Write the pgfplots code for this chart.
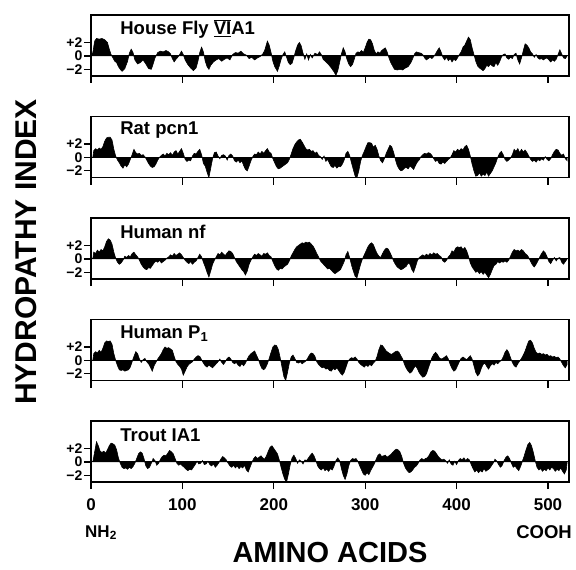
\documentclass[border=0pt]{standalone}
\usepackage{fontspec}
\setmainfont{Liberation Sans}
\usepackage{pgfplots}
\pgfplotsset{compat=1.18}

\pgfplotsset{
  panel/.style={
    scale only axis, width=478pt, height=61pt,
    xmin=0, xmax=523, ymin=-3, ymax=6.1,
    axis line style={line width=1.3pt},
    xtick={0,100,200,300,400,500}, xticklabels={},
    ytick={-2,0,2}, yticklabels={\textbf{−2},\textbf{0},\textbf{+2}},
    tick align=outside, xtick pos=bottom, ytick pos=left,
    major tick length=7pt,
    every tick/.style={line width=1.3pt, black},
    yticklabel style={font=\fontsize{14}{14}\selectfont\bfseries, inner sep=1.5pt},
    anchor=north west,
  },
  prof/.style={fill=black, draw=black, line width=0.6pt},
  zline/.style={black, line width=1.2pt},
}
\newcommand{\ptitle}[1]{\node[anchor=west, font=\fontsize{18.5}{18.5}\selectfont\bfseries] at (rel axis cs:0.054,0.77) {#1};}

\begin{document}
\begin{tikzpicture}
\path[use as bounding box] (-91pt,15pt) rectangle (485pt,-555pt);

% House Fly VIA1
\begin{axis}[panel, at={(0pt,0pt)}]
\addplot[prof] coordinates {
(0,0)(2,0.5)(4,2.2)(6,2.6)(9,2.5)(12,2.6)(15,2.4)(18,2.0)(20,1.0)(22,0.2)(24,-0.3)(26,-0.8)(28,-1.0)(30,-1.6)(32,-2.0)(34,-2.3)(37,-1.9)(40,-0.8)(42,0.4)(44,1.0)(46,0.5)(48,-0.6)(51,-1.2)(54,-1.0)(57,-0.6)(60,-1.2)(63,-1.9)(66,-2.0)(68,-1.2)(70,-0.3)(73,0.5)(76,0.7)(79,0.6)(82,0.8)(85,0.6)(87,0.3)(89,-0.4)(91,-0.9)(93,-0.5)(95,-0.2)(97,0.2)(99,0.7)(101,0.2)(103,-0.6)(106,-1.3)(109,-1.8)(112,-2.2)(115,-1.8)(117,-0.8)(119,0.5)(121,1.3)(123,0.6)(125,-0.8)(127,-1.6)(129,-2.0)(131,-1.4)(134,-0.9)(137,-0.6)(140,-0.4)(143,-0.8)(146,-0.5)(149,-0.3)(152,-0.6)(155,0.2)(158,0.5)(161,0.4)(164,0.7)(167,0.3)(170,0.1)(173,-0.4)(176,-0.2)(179,-0.6)(182,-0.3)(185,-0.1)(188,0.3)(190,0.8)(193,2.2)(195,1.6)(197,0.5)(199,-0.8)(201,-1.6)(204,-2.3)(206,-1.5)(208,-0.5)(210,0.2)(212,0.6)(214,-0.2)(216,-1.0)(218,-1.3)(220,-1.1)(222,-0.2)(224,0.8)(226,1.6)(228,2.0)(230,1.5)(232,0.4)(234,-0.5)(236,0.3)(238,-0.6)(240,0.2)(242,-0.3)(245,0.4)(248,0.2)(250,0.6)(252,0.2)(254,-0.5)(257,-0.9)(260,-1.3)(263,-1.8)(266,-2.4)(268,-2.9)(270,-2.2)(272,-1.0)(274,0.3)(276,1.2)(278,0.6)(280,-0.5)(282,-1.2)(284,-1.6)(286,-1.3)(288,-0.5)(290,0.4)(292,0.6)(294,0.5)(296,0.8)(298,0.5)(300,1.2)(302,2.0)(304,2.5)(306,2.4)(308,1.8)(310,0.8)(312,0.3)(314,0.6)(316,0.4)(318,0.8)(320,1.0)(322,1.2)(324,0.6)(326,-0.3)(328,-1.0)(330,-1.5)(332,-2.0)(335,-2.1)(338,-2.0)(341,-2.1)(344,-1.8)(347,-1.6)(350,-1.0)(352,-0.4)(354,0.3)(356,0.6)(358,0.5)(361,0.4)(363,0.2)(365,-0.3)(367,-0.6)(369,-0.4)(371,-0.2)(373,-0.4)(375,-0.1)(377,0.3)(379,0.8)(381,1.2)(383,0.6)(385,-0.2)(387,-0.6)(389,-0.2)(391,-0.7)(393,-0.4)(395,-0.9)(397,-0.5)(399,-0.7)(401,-0.3)(403,0.2)(405,0.6)(407,1.3)(409,1.6)(411,2.2)(413,2.8)(415,2.4)(417,1.2)(419,0.2)(421,-0.8)(423,-1.5)(425,-1.8)(427,-2.0)(429,-2.2)(431,-1.9)(433,-1.4)(435,-1.6)(437,-1.2)(439,-1.5)(441,-1.6)(443,-1.0)(445,-1.4)(447,-0.9)(449,-0.2)(451,0.2)(453,0.3)(455,-0.3)(457,-0.5)(459,-0.2)(461,-0.4)(463,0.2)(465,0.4)(467,-0.6)(469,-1.2)(471,-0.3)(473,0.8)(475,1.8)(477,1.6)(479,1.2)(481,0.6)(483,0.3)(485,-0.2)(487,0.2)(489,-0.3)(491,-0.5)(493,-0.4)(495,-0.6)(497,-0.4)(499,-0.3)(501,-0.6)(503,-0.9)(505,-0.6)(507,-0.8)(509,-0.5)(511,0.2)(513,0.9)(515,0.3)(517,-0.3)(519,-0.4)(521,0.0)
} \closedcycle;
\addplot[zline] coordinates {(0,0)(523,0)};
\ptitle{House Fly \ensuremath{\overline{\underline{\hbox{VI}}}}A1}
\end{axis}

% Rat pcn1
\begin{axis}[panel, at={(0pt,-101.5pt)}]
\addplot[prof] coordinates {
(2,0)(3,1.0)(5,1.3)(7,1.1)(9,1.4)(11,1.2)(13,1.6)(15,2.4)(17,2.9)(19,3.0)(21,3.0)(23,2.6)(25,1.2)(27,0.2)(29,-0.4)(31,-0.8)(33,-1.3)(35,-1.6)(37,-1.1)(39,-1.4)(41,-1.0)(43,-0.3)(45,0.4)(47,1.2)(49,0.7)(51,0.5)(53,0.6)(55,0.3)(57,0.4)(59,0.1)(61,-0.4)(63,-0.9)(65,-1.3)(67,-1.5)(69,-1.4)(71,-1.0)(73,-0.4)(75,0.0)(77,0.3)(79,0.5)(81,0.2)(83,0.6)(85,0.4)(87,0.7)(89,0.3)(91,0.8)(93,1.0)(95,0.5)(97,0.9)(99,1.3)(101,0.6)(103,-0.3)(105,-0.6)(107,-0.4)(109,-0.5)(111,0.2)(113,0.6)(115,0.5)(117,0.9)(119,1.2)(121,0.4)(123,-0.9)(125,-1.3)(127,-2.2)(129,-3.0)(131,-1.6)(133,-0.2)(135,0.7)(137,0.8)(139,0.2)(141,-0.2)(143,0.3)(145,0.4)(147,0.2)(149,-0.4)(151,0.3)(153,0.5)(155,0.2)(157,-0.5)(159,-0.7)(161,-0.4)(163,-0.8)(165,-0.5)(167,-1.2)(169,-1.8)(171,-2.0)(173,-1.3)(175,-0.5)(177,0.1)(179,0.5)(181,0.4)(183,0.8)(185,0.5)(187,0.9)(189,0.6)(191,1.0)(193,1.3)(195,0.8)(197,0.6)(199,-0.2)(201,-0.8)(203,-1.4)(205,-1.7)(207,-1.6)(209,-1.4)(211,-1.2)(213,-1.0)(215,-0.8)(217,-0.3)(219,0.5)(221,1.3)(223,1.9)(225,2.3)(227,2.6)(229,2.7)(231,2.3)(233,1.8)(235,1.3)(237,1.1)(239,1.2)(241,0.9)(243,1.0)(245,0.6)(247,0.8)(249,0.3)(251,0.1)(253,-0.3)(255,0.2)(257,-0.6)(259,-0.3)(261,-0.9)(263,-1.4)(265,-1.5)(267,-1.2)(269,-1.6)(271,-1.3)(273,-1.4)(275,-1.0)(277,-0.4)(279,0.6)(281,0.9)(283,0.3)(285,-0.8)(287,-1.8)(289,-2.8)(291,-3.0)(293,-2.0)(295,-0.6)(297,0.3)(299,0.9)(301,1.6)(303,2.2)(305,2.2)(307,2.1)(309,1.5)(311,1.8)(313,1.2)(315,0.2)(317,-0.5)(319,-0.8)(321,-0.2)(323,0.6)(325,1.2)(327,1.8)(329,1.6)(331,0.8)(333,-0.3)(335,-1.2)(337,-1.7)(339,-2.0)(341,-1.9)(343,-1.6)(345,-1.5)(347,-1.7)(349,-1.3)(351,-1.5)(353,-1.8)(355,-1.2)(357,-0.7)(359,-0.4)(361,0.1)(363,0.4)(365,0.6)(367,0.5)(369,0.7)(371,0.6)(373,0.3)(375,-0.2)(377,-0.6)(379,-0.4)(381,-0.9)(383,-1.0)(385,-0.7)(387,-0.9)(389,-0.6)(391,-0.3)(393,-0.1)(395,0.4)(397,1.0)(399,0.8)(401,1.2)(403,1.0)(405,1.3)(407,1.1)(409,1.6)(411,1.8)(413,1.2)(415,0.2)(417,-1.0)(419,-2.0)(421,-2.8)(423,-2.7)(425,-2.3)(427,-2.8)(429,-2.5)(431,-2.7)(433,-2.2)(435,-2.8)(437,-2.4)(439,-2.0)(441,-1.4)(443,-0.8)(445,0.0)(447,0.6)(449,0.9)(451,0.4)(453,-0.3)(455,-0.6)(457,-0.4)(459,-0.1)(461,0.4)(463,1.2)(465,0.9)(467,1.3)(469,0.7)(471,1.2)(473,0.8)(475,1.1)(477,0.7)(479,0.2)(481,-0.3)(483,-0.6)(485,-0.4)(487,-0.7)(489,-0.3)(491,-0.5)(493,-0.2)(495,-0.4)(497,0.1)(499,-0.3)(501,-0.5)(503,-0.2)(505,0.4)(507,0.9)(509,1.2)(511,1.1)(513,0.6)(515,0.3)(517,0.5)(519,-0.2)(521,-0.5)
} \closedcycle;
\addplot[zline] coordinates {(0,0)(523,0)};
\ptitle{Rat pcn1}
\end{axis}

% Human nf
\begin{axis}[panel, at={(0pt,-203pt)}]
\addplot[prof] coordinates {
(2,0)(3,1.0)(5,0.8)(7,1.3)(9,1.0)(11,1.4)(13,1.2)(15,1.8)(17,2.6)(19,3.0)(21,2.8)(23,2.2)(25,1.0)(27,0.1)(29,-0.5)(31,-0.8)(33,-0.6)(35,-0.2)(37,0.4)(39,0.2)(41,0.5)(43,0.3)(45,0.8)(47,1.0)(49,0.6)(51,0.3)(53,-0.2)(55,-0.8)(57,-1.2)(59,-1.5)(61,-1.6)(63,-1.3)(65,-1.4)(67,-1.0)(69,-0.6)(71,-0.3)(73,-0.5)(75,-0.2)(77,-0.6)(79,-0.4)(81,-0.2)(83,0.1)(85,0.3)(87,0.6)(89,0.4)(91,0.8)(93,0.5)(95,0.7)(97,0.9)(99,0.6)(101,0.2)(103,-0.2)(105,-0.5)(107,-0.7)(109,-0.4)(111,-0.8)(113,-0.5)(115,-0.3)(117,0.2)(119,0.7)(121,0.3)(123,-0.5)(125,-1.2)(127,-2.0)(129,-2.7)(131,-1.8)(133,-0.8)(135,-0.2)(137,0.3)(139,0.8)(141,0.6)(143,1.0)(145,0.7)(147,0.5)(149,0.9)(151,1.2)(153,1.1)(155,0.8)(157,0.2)(159,-0.4)(161,-0.8)(163,-1.2)(165,-1.6)(167,-1.9)(169,-2.4)(171,-1.8)(173,-0.8)(175,-0.2)(177,0.3)(179,0.7)(181,0.5)(183,0.8)(185,0.6)(187,0.4)(189,0.8)(191,0.7)(193,0.9)(195,0.5)(197,0.3)(199,-0.4)(201,-1.0)(203,-1.5)(205,-1.7)(207,-1.4)(209,-1.5)(211,-1.2)(213,-1.0)(215,-0.8)(217,-0.3)(219,0.4)(221,0.9)(223,1.4)(225,1.8)(227,2.0)(229,2.2)(231,2.4)(233,2.3)(235,2.5)(237,2.4)(239,2.5)(241,2.2)(243,1.9)(245,1.4)(247,0.8)(249,0.3)(251,-0.3)(253,-0.6)(255,-0.9)(257,-1.2)(259,-1.5)(261,-1.4)(263,-1.7)(265,-2.0)(267,-2.2)(269,-2.0)(271,-1.8)(273,-1.6)(275,-1.0)(277,-0.4)(279,0.6)(281,1.1)(283,0.2)(285,-0.9)(287,-1.8)(289,-2.6)(291,-2.8)(293,-1.8)(295,-0.8)(297,0.0)(299,0.6)(301,1.2)(303,1.8)(305,2.2)(307,2.4)(309,2.1)(311,1.4)(313,0.8)(315,0.4)(317,0.2)(319,0.8)(321,1.3)(323,1.6)(325,1.5)(327,1.0)(329,0.4)(331,-0.3)(333,-0.8)(335,-1.2)(337,-1.4)(339,-1.6)(341,-1.5)(343,-1.3)(345,-1.1)(347,-0.6)(349,-0.8)(351,-1.6)(353,-2.0)(355,-1.2)(357,-0.3)(359,0.2)(361,0.4)(363,0.6)(365,0.4)(367,0.7)(369,0.5)(371,0.8)(373,0.6)(375,0.9)(377,0.7)(379,0.8)(381,0.5)(383,0.3)(385,-0.3)(387,-0.5)(389,-0.2)(391,0.3)(393,0.6)(395,1.2)(397,1.0)(399,1.6)(401,1.8)(403,1.7)(405,1.8)(407,1.4)(409,1.7)(411,1.2)(413,0.4)(415,-0.6)(417,-1.2)(419,-1.6)(421,-2.0)(423,-1.8)(425,-2.2)(427,-1.9)(429,-2.3)(431,-2.0)(433,-2.4)(435,-2.8)(437,-2.3)(439,-1.6)(441,-1.0)(443,-0.8)(445,-0.4)(447,-0.6)(449,-0.4)(451,-0.5)(453,-0.3)(455,-0.5)(457,-0.2)(459,0.4)(461,1.0)(463,1.4)(465,1.2)(467,1.3)(469,1.1)(471,1.4)(473,1.2)(475,0.8)(477,0.6)(479,0.2)(481,-0.4)(483,-0.9)(485,-1.2)(487,-0.8)(489,-0.3)(491,0.3)(493,0.8)(495,1.2)(497,0.9)(499,0.3)(501,-0.4)(503,-0.7)(505,-0.2)(507,0.2)(509,-0.3)(511,0.1)(513,0.2)(515,-0.5)(517,-0.8)(519,-0.4)(521,0.0)
} \closedcycle;
\addplot[zline] coordinates {(0,0)(523,0)};
\ptitle{Human nf}
\end{axis}

% Human P1
\begin{axis}[panel, at={(0pt,-304.5pt)}]
\addplot[prof] coordinates {
(2,0)(3,1.0)(5,1.3)(7,1.1)(9,1.5)(11,1.2)(13,1.8)(15,2.6)(17,2.9)(19,2.8)(21,2.9)(23,2.4)(25,1.0)(27,0.0)(29,-0.8)(31,-1.4)(33,-1.5)(35,-1.4)(37,-1.6)(39,-1.5)(41,-1.4)(43,-1.0)(45,-0.2)(47,0.6)(49,1.3)(51,1.0)(53,0.2)(55,-0.3)(57,0.1)(59,0.3)(61,-0.2)(63,-0.5)(65,-1.0)(67,-1.6)(69,-0.8)(71,-0.3)(73,0.2)(75,0.6)(77,1.0)(79,1.6)(81,2.0)(83,1.8)(85,1.9)(87,1.7)(89,1.5)(91,0.6)(93,-0.2)(95,-0.6)(97,-0.9)(99,-1.3)(101,-2.2)(103,-1.6)(105,-1.0)(107,-0.6)(109,-0.4)(111,-0.2)(113,0.2)(115,0.5)(117,0.7)(119,0.6)(121,0.1)(123,-0.4)(125,-0.8)(127,-1.0)(129,-0.7)(131,-0.9)(133,-1.1)(135,-0.8)(137,-0.5)(139,-0.2)(141,0.2)(143,-0.3)(145,-0.6)(147,-0.2)(149,0.3)(151,0.5)(153,0.2)(155,-0.3)(157,-0.5)(159,-0.3)(161,-0.7)(163,-0.9)(165,-0.5)(167,-0.8)(169,-0.4)(171,0.2)(173,0.7)(175,1.0)(177,1.2)(179,1.4)(181,0.8)(183,0.2)(185,-0.6)(187,-1.2)(189,-1.4)(191,-1.1)(193,-0.5)(195,0.3)(197,1.2)(199,2.0)(201,2.3)(203,2.2)(205,1.6)(207,0.4)(209,-1.0)(211,-2.4)(213,-3.0)(215,-1.8)(217,-0.4)(219,0.5)(221,0.8)(223,0.3)(225,-0.3)(227,-0.4)(229,-0.2)(231,-0.5)(233,-0.3)(235,-0.1)(237,0.3)(239,0.8)(241,1.1)(243,1.0)(245,0.6)(247,-0.2)(249,-0.6)(251,-0.9)(253,-1.1)(255,-1.0)(257,-1.3)(259,-1.2)(261,-1.5)(263,-1.6)(265,-1.2)(267,-1.4)(269,-1.1)(271,-1.5)(273,-1.9)(275,-2.2)(277,-1.8)(279,-1.0)(281,-0.2)(283,0.2)(285,0.4)(287,0.3)(289,0.5)(291,0.2)(293,-0.3)(295,-0.6)(297,-0.8)(299,-1.0)(301,-0.7)(303,-0.9)(305,-0.6)(307,-0.8)(309,-0.4)(311,-0.1)(313,0.6)(315,1.6)(317,2.3)(319,2.2)(321,1.8)(323,1.4)(325,1.2)(327,1.0)(329,0.9)(331,1.1)(333,1.3)(335,1.4)(337,1.2)(339,0.7)(341,0.2)(343,-0.6)(345,-1.2)(347,-1.6)(349,-1.9)(351,-1.7)(353,-1.2)(355,-0.8)(357,-1.2)(359,-1.8)(361,-2.2)(363,-2.5)(365,-2.4)(367,-2.0)(369,-1.2)(371,-0.4)(373,0.4)(375,0.9)(377,1.2)(379,0.9)(381,0.4)(383,0.2)(385,0.3)(387,0.5)(389,0.7)(391,0.2)(393,-0.6)(395,-1.2)(397,-1.6)(399,-1.4)(401,-0.8)(403,-0.2)(405,0.3)(407,0.5)(409,0.3)(411,0.1)(413,0.4)(415,0.7)(417,0.2)(419,-0.8)(421,-1.8)(423,-2.3)(425,-2.0)(427,-1.2)(429,-0.6)(431,-0.4)(433,-0.9)(435,-1.3)(437,-0.8)(439,-0.5)(441,-0.7)(443,-0.3)(445,-0.5)(447,-0.2)(449,0.0)(451,0.5)(453,1.2)(455,1.6)(457,1.2)(459,0.4)(461,-0.3)(463,-0.8)(465,-1.0)(467,-0.5)(469,-0.1)(471,0.3)(473,0.8)(475,1.4)(477,2.2)(479,2.9)(481,3.0)(483,2.6)(485,1.8)(487,1.2)(489,1.0)(491,1.1)(493,0.9)(495,1.0)(497,0.8)(499,0.9)(501,0.6)(503,0.7)(505,0.5)(507,0.6)(509,0.4)(511,0.5)(513,0.2)(515,-0.3)(517,-0.8)(519,-1.1)(521,-0.6)
} \closedcycle;
\addplot[zline] coordinates {(0,0)(523,0)};
\ptitle{Human P\textsubscript{1}}
\end{axis}

% Trout IA1
\begin{axis}[panel, at={(0pt,-406pt)},
  xticklabels={0,100,200,300,400,500},
  xticklabel style={font=\fontsize{17}{17}\selectfont\bfseries, yshift=-6pt}]
\addplot[prof] coordinates {
(2,0)(4,1.5)(6,3.0)(8,2.4)(10,1.6)(12,1.4)(14,1.6)(16,1.3)(18,1.8)(20,2.4)(22,2.8)(24,2.7)(26,2.5)(28,1.8)(30,0.6)(32,-0.2)(34,-0.8)(36,-1.0)(38,-0.9)(40,-1.1)(42,-0.8)(44,-1.0)(46,-0.7)(48,-0.2)(50,0.5)(52,1.2)(54,1.5)(56,1.3)(58,0.5)(60,-0.6)(62,-1.0)(64,-0.8)(66,-0.2)(68,0.5)(70,0.2)(72,-0.5)(74,-0.2)(76,0.4)(78,0.8)(80,1.0)(82,0.9)(84,1.3)(86,1.7)(88,1.5)(90,1.2)(92,0.5)(94,-0.2)(96,-0.5)(98,-0.3)(100,-0.6)(102,-0.8)(104,-1.1)(106,-1.3)(108,-1.1)(110,-1.2)(112,-0.8)(114,-0.4)(116,0.1)(118,-0.3)(120,-0.2)(122,0.2)(124,-0.4)(126,-0.3)(128,0.1)(130,-0.4)(132,-0.6)(134,-0.3)(136,-0.8)(138,-0.5)(140,-0.1)(142,0.4)(144,0.8)(146,0.6)(148,0.3)(150,-0.2)(152,-0.6)(154,-0.8)(156,-0.5)(158,-0.9)(160,-0.6)(162,-1.0)(164,-0.7)(166,-0.9)(168,-0.5)(170,-1.2)(172,-1.5)(174,-0.8)(176,-0.1)(178,0.5)(180,0.8)(182,0.5)(184,0.7)(186,0.9)(188,0.6)(190,0.4)(192,0.9)(194,1.6)(196,2.2)(198,2.4)(200,2.0)(202,1.6)(204,1.2)(206,0.3)(208,-0.8)(210,-1.8)(212,-2.6)(214,-3.0)(216,-1.8)(218,-0.4)(220,0.6)(222,1.0)(224,0.5)(226,-0.2)(228,0.3)(230,0.1)(232,-0.3)(234,0.3)(236,0.2)(238,0.6)(240,1.0)(242,1.3)(244,0.9)(246,0.2)(248,-0.6)(250,-1.0)(252,-1.2)(254,-0.9)(256,-1.3)(258,-1.1)(260,-1.4)(262,-1.0)(264,-1.2)(266,-0.6)(268,0.2)(270,0.6)(272,0.2)(274,-1.0)(276,-2.0)(278,-2.6)(280,-1.8)(282,-0.6)(284,0.2)(286,0.5)(288,0.4)(290,0.5)(292,0.1)(294,-0.6)(296,-1.2)(298,-1.8)(300,-2.0)(302,-1.6)(304,-1.9)(306,-1.3)(308,-0.8)(310,-0.3)(312,0.4)(314,1.0)(316,1.2)(318,0.8)(320,0.9)(322,1.0)(324,0.7)(326,0.9)(328,1.1)(330,1.4)(332,1.7)(334,1.9)(336,1.8)(338,1.5)(340,0.8)(342,-0.2)(344,-0.9)(346,-1.3)(348,-1.6)(350,-1.5)(352,-1.2)(354,-0.8)(356,-0.6)(358,-0.2)(360,0.3)(362,0.5)(364,0.3)(366,0.5)(368,0.6)(370,1.0)(372,1.5)(374,1.7)(376,1.6)(378,1.2)(380,0.8)(382,0.5)(384,0.3)(386,0.4)(388,0.2)(390,-0.2)(392,0.3)(394,-0.3)(396,-0.5)(398,0.1)(400,-0.4)(402,0.2)(404,0.5)(406,0.3)(408,0.6)(410,0.2)(412,0.5)(414,0.3)(416,-0.4)(418,-1.0)(420,-1.5)(422,-1.2)(424,-1.6)(426,-1.3)(428,-1.5)(430,-1.0)(432,-1.4)(434,-1.2)(436,-1.0)(438,-0.6)(440,-0.2)(442,0.4)(444,0.1)(446,-0.4)(448,-0.8)(450,-0.5)(452,0.2)(454,0.7)(456,0.9)(458,0.5)(460,-0.2)(462,-0.8)(464,-0.6)(466,-1.0)(468,-1.3)(470,-0.7)(472,0.1)(474,0.9)(476,1.8)(478,2.6)(480,2.9)(482,2.4)(484,1.4)(486,0.2)(488,-0.8)(490,-1.2)(492,-1.0)(494,-1.4)(496,-1.1)(498,-1.3)(500,-0.9)(502,-1.2)(504,-0.8)(506,-1.0)(508,-1.4)(510,-1.1)(512,-1.3)(514,-0.9)(516,-1.4)(518,-1.8)(520,-1.2)(521,0)
} \closedcycle;
\addplot[zline] coordinates {(0,0)(523,0)};
\ptitle{Trout IA1}
\end{axis}

\node[rotate=90, font=\fontsize{30}{30}\selectfont\bfseries] at (-65pt,-237pt) {HYDROPATHY INDEX};
\node[inner sep=0pt, font=\fontsize{29}{29}\selectfont\bfseries] at (239pt,-538pt) {AMINO ACIDS};
\node[anchor=base west, inner sep=0pt, font=\fontsize{17}{17}\selectfont\bfseries] at (-6pt,-522pt) {NH\textsubscript{2}};
\node[anchor=base east, inner sep=0pt, font=\fontsize{18.5}{18.5}\selectfont\bfseries] at (481pt,-523pt) {COOH};
\end{tikzpicture}
\end{document}
